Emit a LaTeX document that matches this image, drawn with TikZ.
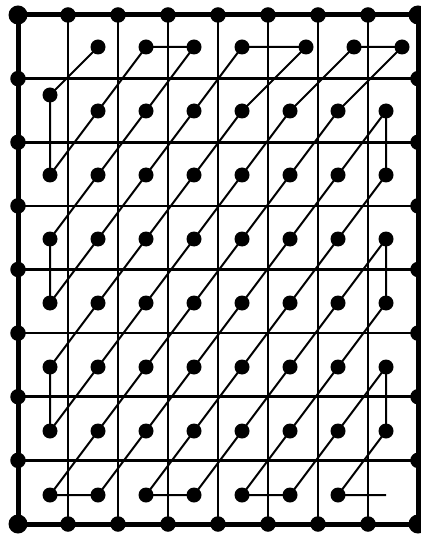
\documentclass[tikz,border=0pt]{standalone}
\begin{document}
\begin{tikzpicture}[x=1pt,y=-1pt,
  dot/.style={circle,fill=black,inner sep=0pt,minimum size=15pt},
  bdot/.style={circle,fill=black,inner sep=0pt,minimum size=15.5pt},
  cdot/.style={circle,fill=black,inner sep=0pt,minimum size=19pt},
  gridline/.style={line width=2.7pt},
  frameline/.style={line width=5pt},
  scan/.style={line width=2pt,line join=round}]
\useasboundingbox (0,0) rectangle (420,534);
% grid
\foreach \i in {1,...,7} {\draw[gridline] ({18+50*\i},15) -- ({18+50*\i},524);}
\foreach \j in {1,...,7} {\draw[gridline] (18,{15+509/8*\j}) -- (418,{15+509/8*\j});}
\draw[frameline] (18,15) rectangle (418,524);
% border dots
\foreach \i in {1,...,7} {
  \node[bdot] (t\i) at ({18+50*\i},15) {};
  \node[bdot] (b\i) at ({18+50*\i},524) {};
  \node[bdot] (l\i) at (18,{15+509/8*\i}) {};
  \node[bdot] (r\i) at (418,{15+509/8*\i}) {};
}
\node[cdot] (c1) at (18,15) {};
\node[cdot] (c2) at (418,15) {};
\node[cdot] (c3) at (18,524) {};
\node[cdot] (c4) at (418,524) {};
% sample dots
\foreach \c in {0,...,7} {\foreach \r in {2,...,6} {\node[dot] (p\c\r) at ({50+48*\c},{111+64*(\r-1)}) {};}}
\foreach \c in {1,...,7} {\node[dot] (p\c1) at ({50+48*\c},111) {};}
\foreach \c in {0,...,6} {\node[dot] (p\c7) at ({50+48*\c},495) {};}
\node[dot] (p01) at (50,95) {};
\foreach \c in {1,...,4} {\node[dot] (p\c0) at ({50+48*\c},47) {};}
\foreach \c in {5,...,7} {\node[dot] (p\c0) at ({66+48*\c},47) {};}
\coordinate (e) at (386,495);
% zigzag scan
\draw[scan] (p10.center) -- (p01.center) -- (p02.center) -- (p11.center) -- (p20.center)
 -- (p30.center) -- (p21.center) -- (p12.center) -- (p03.center)
 -- (p04.center) -- (p13.center) -- (p22.center) -- (p31.center) -- (p40.center)
 -- (p50.center) -- (p41.center) -- (p32.center) -- (p23.center) -- (p14.center) -- (p05.center)
 -- (p06.center) -- (p15.center) -- (p24.center) -- (p33.center) -- (p42.center) -- (p51.center) -- (p60.center)
 -- (p70.center) -- (p61.center) -- (p52.center) -- (p43.center) -- (p34.center) -- (p25.center) -- (p16.center) -- (p07.center)
 -- (p17.center) -- (p26.center) -- (p35.center) -- (p44.center) -- (p53.center) -- (p62.center) -- (p71.center)
 -- (p72.center) -- (p63.center) -- (p54.center) -- (p45.center) -- (p36.center) -- (p27.center)
 -- (p37.center) -- (p46.center) -- (p55.center) -- (p64.center) -- (p73.center)
 -- (p74.center) -- (p65.center) -- (p56.center) -- (p47.center)
 -- (p57.center) -- (p66.center) -- (p75.center)
 -- (p76.center) -- (p67.center) -- (e);
\end{tikzpicture}
\end{document}
